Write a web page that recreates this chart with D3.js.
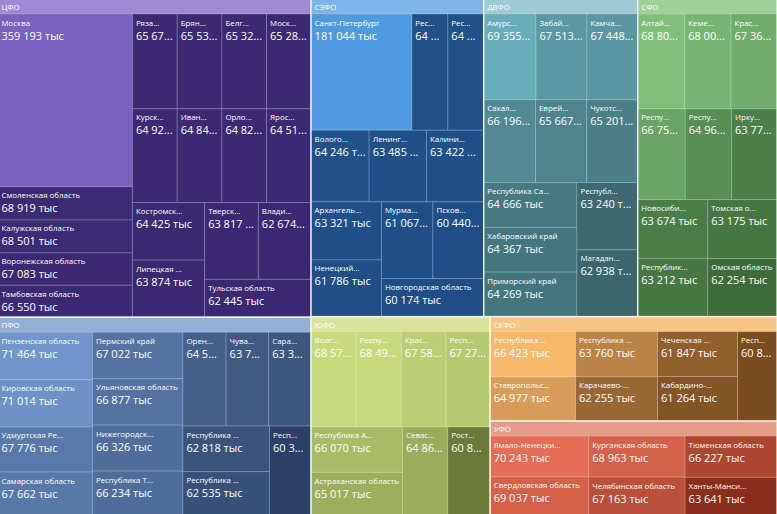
<!DOCTYPE html>
<html>
<head>
<meta charset="utf-8">
<script src="https://cdn.jsdelivr.net/npm/d3@7"></script>
<style>
  body { margin: 0; background: #fff; overflow: hidden; }
  svg { display: block; }
  svg text { font-family: "Open Sans", "Noto Sans", sans-serif; fill: #fff; }
</style>
</head>
<body>
<div id="chart"></div>
<script>
// федеральные округа
var districts = ["ЦФО", "СЗФО", "ДВФО", "СФО", "ПФО", "ЮФО", "СКФО", "УФО"];

var cfoRegions = ["Москва", "Смоленская область", "Калужская область", "Воронежская область", "Тамбовская область",
    "Рязанская область", "Брянская область", "Белгородская область", "Московская область", "Курская область",
    "Ивановская область", "Орловская область", "Ярославская область", "Костромская область", "Липецкая область",
    "Тверская область", "Владимирская область", "Тульская область"];
var cfoValues = [359193, 68919, 68501, 67083, 66550, 65672, 65534, 65321, 65283, 64925,
    64847, 64822, 64513, 64425, 63874, 63817, 62674, 62445];

var szfoRegions = ["Санкт-Петербург", "Республика Коми", "Республика Карелия", "Вологодская область",
    "Ленинградская область", "Калининградская область", "Архангельская область", "Ненецкий автономный округ",
    "Мурманская область", "Псковская область", "Новгородская область"];
var szfoValues = [181044, 64800, 64500, 64246, 63485, 63422, 63321, 61786, 61067, 60440, 60174];

var dfoRegions = ["Амурская область", "Забайкальский край", "Камчатский край", "Сахалинская область",
    "Еврейская автономная область", "Чукотский автономный округ", "Республика Саха (Якутия)", "Хабаровский край",
    "Приморский край", "Республика Бурятия", "Магаданская область"];
var dfoValues = [69355, 67513, 67448, 66196, 65667, 65201, 64666, 64367, 64269, 63240, 62938];

var sfoRegions = ["Алтайский край", "Кемеровская область", "Красноярский край", "Республика Алтай",
    "Республика Тыва", "Иркутская область", "Новосибирская область", "Республика Хакасия", "Томская область",
    "Омская область"];
var sfoValues = [68805, 68004, 67362, 66753, 64962, 63773, 63674, 63212, 63175, 62254];

var pfoRegions = ["Пензенская область", "Кировская область", "Удмуртская Республика", "Самарская область",
    "Пермский край", "Ульяновская область", "Нижегородская область", "Республика Татарстан (Татарстан)",
    "Оренбургская область", "Чувашская Республика", "Саратовская область", "Республика Мордовия",
    "Республика Марий Эл", "Республика Башкортостан"];
var pfoValues = [71464, 71014, 67776, 67662, 67022, 66877, 66326, 66234, 64520, 63720, 63340, 62818, 62535, 60330];

var yufoRegions = ["Волгоградская область", "Республика Калмыкия", "Краснодарский край", "Республика Крым",
    "Республика Адыгея (Адыгея)", "Астраханская область", "Севастополь", "Ростовская область"];
var yufoValues = [68572, 68493, 67584, 67273, 66070, 65017, 64862, 60830];

var skfoRegions = ["Республика Дагестан", "Ставропольский край", "Республика Северная Осетия — Алания",
    "Карачаево-Черкесская Республика", "Чеченская Республика", "Кабардино-Балкарская Республика",
    "Республика Ингушетия"];
var skfoValues = [66423, 64977, 63760, 62255, 61847, 61264, 60850];

var ufoRegions = ["Ямало-Ненецкий автономный округ", "Свердловская область", "Курганская область",
    "Челябинская область", "Тюменская область", "Ханты-Мансийский автономный округ — Югра"];
var ufoValues = [70243, 69037, 68963, 67163, 66227, 63641];

var regionLists = [cfoRegions, szfoRegions, dfoRegions, sfoRegions, pfoRegions, yufoRegions, skfoRegions, ufoRegions];
var valueLists = [cfoValues, szfoValues, dfoValues, sfoValues, pfoValues, yufoValues, skfoValues, ufoValues];

// цвета: заголовок, самый светлый (макс), самый тёмный (мин)
var headerColors = ["#9d8ad2", "#7eb4e8", "#9dcad3", "#a0d09a", "#93afd4", "#dae39b", "#f7c584", "#e69b87"];
var lightColors = ["#7a60bf", "#4e9ade", "#67acb9", "#7ec07a", "#6f95ca", "#c8da7c", "#f6b86b", "#e66d55"];
var darkColors = ["#3a2972", "#1f4e86", "#3a666e", "#3d6b3a", "#2b4066", "#6b7a38", "#7a4c20", "#8a2e1c"];

// the visual is a bit larger than the window (cropped screenshot)
var width = 779, height = 518, offX = -2, offY = -1, headerH = 15;
var nameSize = 7.9, valueSize = 11, cutScale = 1.38;

var fmt = d3.formatLocale({ decimal: ",", thousands: " ", grouping: [3], currency: ["", ""] }).format(",d");

var data = {
    name: "root",
    children: districts.map(function (d, i) {
        return {
            name: d, idx: i,
            children: regionLists[i].map(function (r, j) { return { name: r, value: valueLists[i][j] }; })
        };
    })
};

var root = d3.hierarchy(data)
    .sum(function (d) { return d.value; })
    .sort(function (a, b) { return b.value - a.value; });

d3.treemap()
    .size([width, height])
    .tile(d3.treemapSquarify)
    .paddingTop(function (d) { return d.depth === 1 ? headerH : 0; })
    (root);

var svg = d3.select("#chart").append("svg")
    .attr("width", 777)
    .attr("height", 514)
    .append("g")
    .attr("transform", "translate(" + offX + "," + offY + ")");

// full text if it fits, else cut with "..." (cut is measured with scale, like the original visual does)
function fitText(sel, str, maxW, scale) {
    scale = scale || 1;
    sel.text(str);
    if (sel.node().getComputedTextLength() <= maxW) return;
    var s = str;
    while (s.length > 0) {
        s = s.slice(0, -1);
        sel.text(s + "...");
        if (sel.node().getComputedTextLength() * scale <= maxW) return;
    }
}

var groups = svg.selectAll("g.district")
    .data(root.children)
    .enter().append("g")
    .attr("class", "district");

groups.append("rect")
    .attr("x", function (d) { return d.x0; })
    .attr("y", function (d) { return d.y0; })
    .attr("width", function (d) { return d.x1 - d.x0; })
    .attr("height", function (d) { return d.y1 - d.y0; })
    .attr("fill", function (d) { return headerColors[d.data.idx]; });

groups.append("text")
    .attr("x", function (d) { return d.x0 + 3.5; })
    .attr("y", function (d) { return d.y0 + 11; })
    .attr("font-size", 7.8)
    .text(function (d) { return d.data.name; });

groups.each(function (g) {
    var vals = g.children.map(function (c) { return c.value; });
    var color = d3.scaleLinear()
        .domain([d3.min(vals), d3.max(vals)])
        .range([darkColors[g.data.idx], lightColors[g.data.idx]])
        .interpolate(d3.interpolateRgb);

    var cell = d3.select(this).selectAll("g.cell")
        .data(g.children)
        .enter().append("g")
        .attr("class", "cell");

    cell.append("rect")
        .attr("x", function (d) { return d.x0; })
        .attr("y", function (d) { return d.y0; })
        .attr("width", function (d) { return d.x1 - d.x0; })
        .attr("height", function (d) { return d.y1 - d.y0; })
        .attr("fill", function (d) { return color(d.value); })
        .attr("stroke", "rgba(255,255,255,0.2)")
        .attr("stroke-width", 1);

    cell.append("text")
        .attr("x", function (d) { return d.x0 + 3.5; })
        .attr("y", function (d) { return d.y0 + 11.5; })
        .attr("font-size", nameSize)
        .each(function (d) { fitText(d3.select(this), d.data.name, d.x1 - d.x0 - 6, cutScale); });

    cell.append("text")
        .attr("x", function (d) { return d.x0 + 3.5; })
        .attr("y", function (d) { return d.y0 + 25.5; })
        .attr("font-size", valueSize)
        .each(function (d) { fitText(d3.select(this), fmt(d.value) + " тыс", d.x1 - d.x0 - 7); });
});

// границы округов
groups.append("rect")
    .attr("x", function (d) { return d.x0; })
    .attr("y", function (d) { return d.y0; })
    .attr("width", function (d) { return d.x1 - d.x0; })
    .attr("height", function (d) { return d.y1 - d.y0; })
    .attr("fill", "none")
    .attr("stroke", "rgba(255,255,255,0.75)")
    .attr("stroke-width", 1.5);
</script>
</body>
</html>
